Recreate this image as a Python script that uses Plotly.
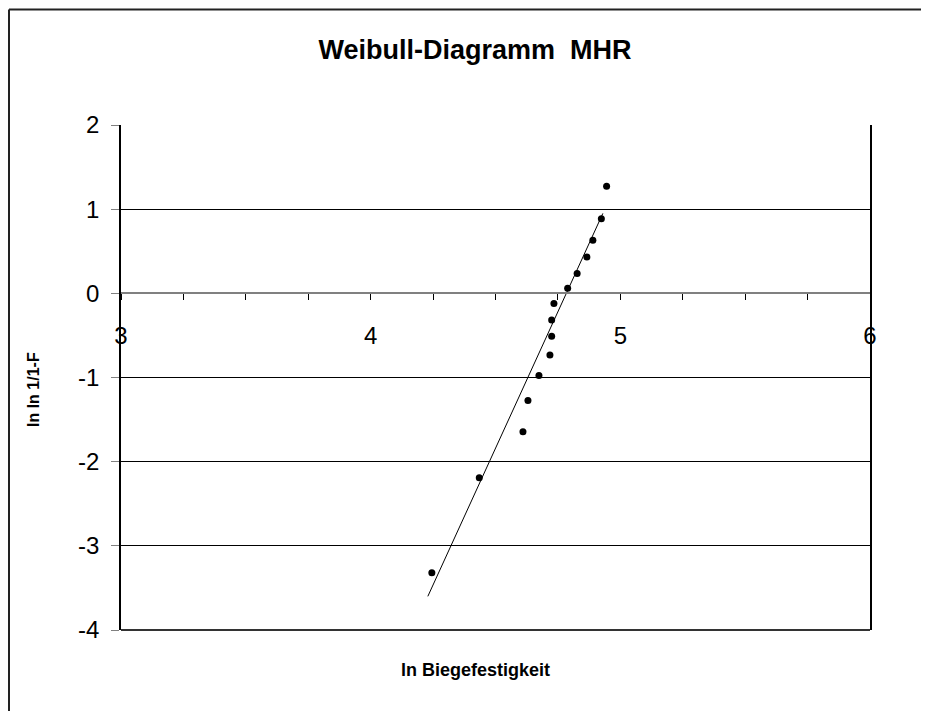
import plotly.graph_objects as go

# Data
ln_strength = [4.245, 4.435, 4.610, 4.630, 4.674, 4.718, 4.725, 4.725, 4.734,
               4.789, 4.827, 4.866, 4.890, 4.924, 4.945]
lnln_1_1F = [-3.32, -2.19, -1.645, -1.273, -0.977, -0.732, -0.510, -0.317, -0.122,
             0.059, 0.237, 0.431, 0.632, 0.886, 1.273]
trend_x = [4.229, 4.93]
trend_y = [-3.60, 0.95]
x_ticks = [3, 4, 5, 6]
y_ticks = [-4, -3, -2, -1, 0, 1, 2]

# page has an 8px body offset; work in page pixel coordinates
OFF = 8
W, H = 929 - OFF, 711 - OFF
L, R, T, B = 121 - OFF, 59, 125 - OFF, 81
pw = W - L - R
ph = H - T - B

def px(x):
    return (x - OFF - L) / pw

def py(y):
    return (H - B - (y - OFF)) / ph

fig = go.Figure()
fig.add_trace(go.Scatter(x=trend_x, y=trend_y, mode="lines",
                         line=dict(color="black", width=1), showlegend=False,
                         hoverinfo="skip"))
fig.add_trace(go.Scatter(x=ln_strength, y=lnln_1_1F, mode="markers",
                         marker=dict(color="black", size=7), showlegend=False))

font_family = "Liberation Sans, Arial, sans-serif"

fig.update_layout(
    width=W, height=H,
    margin=dict(l=L, r=R, t=T, b=B),
    paper_bgcolor="white", plot_bgcolor="white",
    font=dict(family=font_family, color="black"),
    title=dict(text="<b>Weibull-Diagramm  MHR</b>", x=px(475), xref="paper",
               xanchor="center", y=1 - (50 - OFF) / H, yanchor="middle",
               font=dict(size=27, family=font_family, color="black")),
    xaxis=dict(range=[3, 6], tickvals=x_ticks, ticktext=[str(v) for v in x_ticks],
               anchor="free", position=4 / 6,
               showline=True, linecolor="#808080", linewidth=1.5,
               ticks="outside", ticklen=6, tickcolor="black", tickwidth=1,
               minor=dict(dtick=0.25, ticks="outside", ticklen=6, tickcolor="black"),
               showgrid=False, zeroline=False,
               tickfont=dict(size=24, color="black"), ticklabelstandoff=15),
    yaxis=dict(range=[-4, 2], tickvals=y_ticks, ticktext=[str(v) for v in y_ticks],
               showline=True, linecolor="black", linewidth=1.5, mirror=True,
               ticks="outside", ticklen=8, tickcolor="#808080",
               showgrid=True, gridcolor="black", gridwidth=1, zeroline=False,
               tickfont=dict(size=24, color="black"), ticklabelstandoff=7),
    shapes=[
        dict(type="line", xref="paper", yref="paper", x0=px(9), x1=px(940),
             y0=py(9.5), y1=py(9.5), line=dict(color="#222222", width=2)),
        dict(type="line", xref="paper", yref="paper", x0=px(9), x1=px(9),
             y0=py(9.5), y1=py(720), line=dict(color="#222222", width=2)),
        dict(type="line", xref="paper", yref="paper", x0=0, x1=1,
             y0=0, y1=0, line=dict(color="#333333", width=2)),
    ],
    annotations=[
        dict(text="<b>ln Biegefestigkeit</b>", xref="paper", yref="paper",
             x=px(475), y=py(670), xanchor="center", yanchor="middle",
             showarrow=False, font=dict(size=18, color="black")),
        dict(text="<b>ln ln 1/1-F</b>", xref="paper", yref="paper",
             x=px(33), y=py(390), xanchor="center", yanchor="middle",
             textangle=-90, showarrow=False, font=dict(size=16, color="black")),
    ],
)

fig.write_html("out.html")
